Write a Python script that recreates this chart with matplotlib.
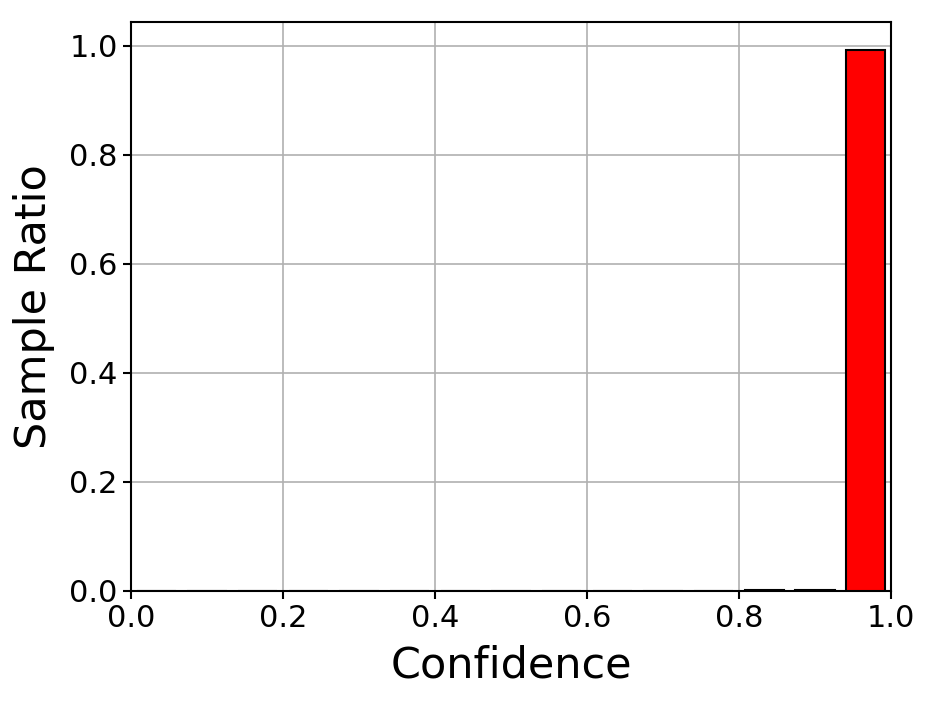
import matplotlib
matplotlib.use('Agg')
import matplotlib.pyplot as plt
import numpy as np

# confidence histogram: 15 equal bins over [0, 1]
n_bins = 15
bin_ratio = [0.0, 0.0, 0.0, 0.0, 0.0, 0.0, 0.0006, 0.0008, 0.0008, 0.0008,
             0.0009, 0.0009, 0.0015, 0.0018, 0.9935]

edges = np.linspace(0.0, 1.0, n_bins + 1)
centers = (edges[:-1] + edges[1:]) / 2.0
width = (edges[1] - edges[0]) * 0.77

fig = plt.figure(figsize=(9.34, 7.02), dpi=100)
ax = fig.add_axes([131 / 934, 1 - 591 / 702, 760 / 934, 569 / 702])
ax.bar(centers, bin_ratio, width=width, color='red', edgecolor='black', linewidth=1.5, zorder=3)
ax.set_xlim(0.0, 1.0)
ax.set_ylim(0.0, 1.044)
ax.grid(True, color='#b0b0b0', linewidth=1.2)
ax.set_axisbelow(True)
ax.set_xlabel('Confidence', fontsize=31, labelpad=8)
ax.set_ylabel('Sample Ratio', fontsize=31, labelpad=10)
ax.tick_params(labelsize=22, width=1.5, length=6)
for s in ax.spines.values():
    s.set_linewidth(1.5)
fig.savefig('out.png')
